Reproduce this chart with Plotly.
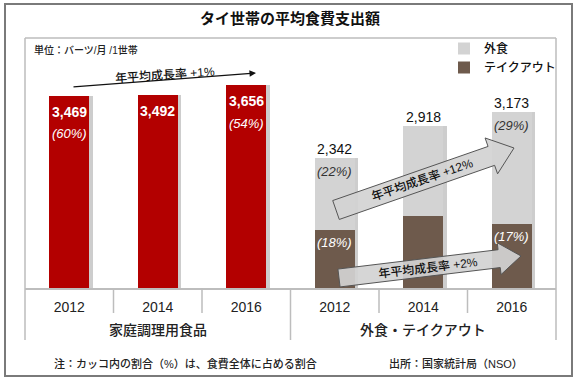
import math
import plotly.graph_objects as go

W, H = 580, 385

# ---- data ----
groups = ["家庭調理用食品", "外食・テイクアウト"]
years = ["2012", "2014", "2016"]
home_food = [3469, 3492, 3656]
home_share = ["(60%)", "", "(54%)"]
takeout = [1050, 1300, 1160]
eatout = [1292, 1618, 2013]
eatout_share = ["(22%)", "", "(29%)"]
takeout_share = ["(18%)", "", "(17%)"]
growth_home = "年平均成長率 +1%"
growth_eatout = "年平均成長率 +12%"
growth_takeout = "年平均成長率 +2%"

FONT = "Liberation Sans, Arial, Noto Sans CJK JP"
RED = "#b30000"
GRAY = "#d3d3d3"
BROWN = "#6e5a4c"

xl = list(range(len(years)))
xr = [len(years) + i for i in range(len(years))]
totals_r = [a + b for a, b in zip(takeout, eatout)]

def px(x):
    return x / W

def py(y):
    return 1 - y / H

fig = go.Figure()
BW = 0.45
SH = 3.5 / 88.5

# shadows
fig.add_trace(go.Bar(x=xl, y=home_food, width=BW, offset=-BW / 2 + SH,
                     marker=dict(color="rgba(90,90,90,0.30)", line=dict(width=0)),
                     showlegend=False, hoverinfo="skip"))
fig.add_trace(go.Bar(x=xr, y=totals_r, width=BW, offset=-BW / 2 + SH,
                     marker=dict(color="rgba(90,90,90,0.30)", line=dict(width=0)),
                     showlegend=False, hoverinfo="skip"))
# main bars
fig.add_trace(go.Bar(x=xl, y=home_food, width=BW, name=groups[0],
                     marker=dict(color=RED, line=dict(width=0)), showlegend=False))
fig.add_trace(go.Bar(x=xr, y=takeout, width=BW, name="テイクアウト",
                     marker=dict(color=BROWN, line=dict(width=0)), legendrank=2))
fig.add_trace(go.Bar(x=xr, y=eatout, base=takeout, width=BW, name="外食",
                     marker=dict(color=GRAY, line=dict(width=0)), legendrank=1))

def A(**kw):
    d = dict(showarrow=False, xanchor="center", yanchor="middle")
    d.update(kw)
    return d

def F(size, color="#222", weight=500):
    return dict(size=size, color=color, family=FONT, weight=weight)

ann = []
# red bar labels
for x, v, s in zip(xl, home_food, home_share):
    ann.append(A(x=x, y=v, xref="x", yref="y", text=f"<b>{v:,}</b>",
                 yshift=-16, font=dict(size=14, color="white", family=FONT)))
    if s:
        ann.append(A(x=x, y=v, xref="x", yref="y", text=f"<i>{s}</i>",
                     yshift=-38, font=dict(size=13, color="white", family=FONT)))
# right bar labels
for x, t, e, s1, s2 in zip(xr, takeout, eatout, eatout_share, takeout_share):
    ann.append(A(x=x, y=t + e, xref="x", yref="y", text=f"{t + e:,}", yanchor="bottom",
                 yshift=-1, font=dict(size=14, color="#111", family=FONT)))
    if s1:
        ann.append(A(x=x, y=t + e, xref="x", yref="y", text=f"<i>{s1}</i>",
                     yshift=-13, font=dict(size=13, color="#333", family=FONT)))
    if s2:
        ann.append(A(x=x, y=t, xref="x", yref="y", text=f"<i>{s2}</i>",
                     yshift=-13, font=dict(size=13, color="white", family=FONT)))

# group labels
for gi, g in enumerate(groups):
    ann.append(A(x=gi * 3 + 1, y=py(330), xref="x", yref="paper", text=g, font=F(14)))

# title / notes
ann += [
    A(x=px(290), y=py(18), xref="paper", yref="paper", text="<b>タイ世帯の平均食費支出額</b>",
      font=dict(size=15, color="#111", family=FONT)),
    A(x=px(32), y=py(50), xref="paper", yref="paper", text="単位：バーツ/月 /1世帯", xanchor="left",
      font=F(10)),
    A(x=px(186), y=py(363), xref="paper", yref="paper", text="注：カッコ内の割合（%）は、食費全体に占める割合",
      font=F(11)),
    A(x=px(456), y=py(363), xref="paper", yref="paper", text="出所：国家統計局（NSO）",
      font=F(11)),
    # +1% arrow
    dict(x=px(256), y=py(73), xref="paper", yref="paper", ax=72 - 256, ay=87 - 73,
         axref="pixel", ayref="pixel", text="", showarrow=True, arrowhead=2, arrowsize=1,
         arrowwidth=1.3, arrowcolor="#111"),
    A(x=px(165), y=py(75), xref="paper", yref="paper", text=growth_home, textangle=-4,
      font=F(12, "#111")),
]

shapes = []

def big_arrow(tail, tip, s, h, L):
    dx, dy = tip[0] - tail[0], tip[1] - tail[1]
    d = math.hypot(dx, dy)
    ux, uy = dx / d, dy / d
    nx, ny = -uy, ux
    nk = (tip[0] - ux * L, tip[1] - uy * L)
    pts = [(tail[0] + nx * s, tail[1] + ny * s), (nk[0] + nx * s, nk[1] + ny * s),
           (nk[0] + nx * h, nk[1] + ny * h), tip, (nk[0] - nx * h, nk[1] - ny * h),
           (nk[0] - nx * s, nk[1] - ny * s), (tail[0] - nx * s, tail[1] - ny * s)]
    path = "M " + " L ".join(f"{px(a):.5f},{py(b):.5f}" for a, b in pts) + " Z"
    return dict(type="path", path=path, xref="paper", yref="paper",
                fillcolor="rgba(210,210,210,0.92)", line=dict(color="#555", width=1), layer="above")

shapes.append(big_arrow((336, 210), (514, 148), 10, 19, 24))
shapes.append(big_arrow((339, 278), (521, 256), 9, 16, 22))
ann.append(A(x=px(422), y=py(180), xref="paper", yref="paper", text=growth_eatout, textangle=-19,
             font=F(12, "#111")))
ann.append(A(x=px(428), y=py(267), xref="paper", yref="paper", text=growth_takeout, textangle=-7,
             font=F(12, "#111")))

# frames
FR = "#bdbdbd"
def pline(x0, y0, x1, y1, color=FR, w=1.5):
    return dict(type="line", xref="paper", yref="paper", x0=px(x0), y0=py(y0), x1=px(x1), y1=py(y1),
                line=dict(color=color, width=w), layer="below")

shapes.append(dict(type="rect", xref="paper", yref="paper", x0=px(5), y0=py(376), x1=px(572), y1=py(4),
                   line=dict(color="#7a7a7a", width=2), layer="below"))
shapes += [pline(25, 38, 556, 38), pline(25, 38, 25, 340), pline(556, 38, 556, 340)]
# category dividers
for xv in [0.5, 1.5, 3.5, 4.5]:
    shapes.append(dict(type="line", xref="x", yref="paper", x0=xv, x1=xv, y0=py(288), y1=py(313),
                       line=dict(color=FR, width=1.5)))
shapes.append(dict(type="line", xref="x", yref="paper", x0=2.5, x1=2.5, y0=py(288), y1=py(340),
                   line=dict(color=FR, width=1.5)))

fig.update_layout(
    width=W, height=H, margin=dict(l=0, r=0, t=0, b=0),
    paper_bgcolor="white", plot_bgcolor="white",
    barmode="overlay", bargap=0,
    font=dict(family=FONT, color="#222"),
    xaxis=dict(domain=[px(25), px(556)], range=[-0.5, 5.5], tickvals=xl + xr, ticktext=years * 2,
               showgrid=False, zeroline=False, showline=True, linecolor=FR, linewidth=1.5,
               ticks="", ticklabelstandoff=5, tickfont=dict(size=14, color="#222", family=FONT),
               fixedrange=True),
    yaxis=dict(domain=[py(288), py(38)], range=[0, 4513], visible=False, fixedrange=True),
    legend=dict(x=px(444), y=py(34), xanchor="left", yanchor="top", bgcolor="rgba(0,0,0,0)",
                font=F(12, "#111"), itemwidth=30, tracegroupgap=0),
    annotations=ann, shapes=shapes, showlegend=True,
)

fig.write_html("out.html", config={"displayModeBar": False},
               post_script="document.body.style.margin='0';")
